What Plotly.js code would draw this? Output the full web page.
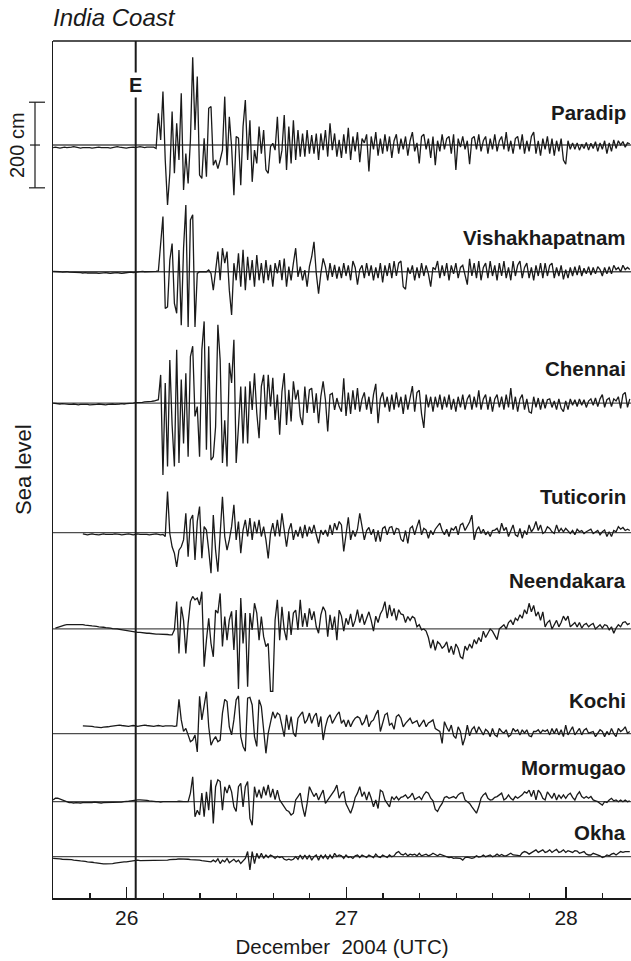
<!DOCTYPE html>
<html>
<head>
<meta charset="utf-8">
<script src="https://cdn.plot.ly/plotly-3.0.1.min.js"></script>
<style>
  html, body { margin: 0; padding: 0; background: #ffffff; overflow: hidden; }
  #chart { width: 631px; height: 961px; }
</style>
</head>
<body>
<div id="chart"></div>
<script>
// Tide-gauge records along the India coast, 26-28 December 2004.
// Sea level in cm relative to each gauge's mean, one sample every 15 minutes.
const stations = ["Paradip", "Vishakhapatnam", "Chennai", "Tuticorin", "Neendakara", "Kochi", "Mormugao", "Okha"];
const firstSampleDay = [25.665, 25.665, 25.665, 25.8004, 25.6754, 25.8004, 25.665, 25.665];
const sampleStepDay = 15 / 1440;
const earthquakeDay = 26.041;

const paradip = [
  -6,-5,-6,-7,-6,-5,-6,-6,-5,-4, -5,-6,-7,-6,-6,-5,-6,-7,-6,-5,
  -5,-6,-6,-5,-6,-7,-6,-5,-4,-5, -6,-6,-7,-6,-5,-5,-6,-5,-4,-5,
  -6,-5,-5,-4,-5,
  -8,74,12,125,-35,-140,-66,78,-66,51,
  -35,121,-105,-20,-90,12,205,35,160,-70,
  -78,16,-74,86,90,-47,-35,-55,-35,-12,
  113,-47,66,-4,-117,20,16,-94,43,105,
  -35,58,-86,-12,-43,43,-20,35,-58,-66,
  -4,4,-12,66,-43,-12,70,-58,43,-43,
  58,-35,35,-27,27,-27,35,-20,23,-20,
  27,-35,27,-12,35,-27,51,-12,27,-27,
  12,
  -30,25,-20,40,-35,20,-15,30,-40,15,
  5,25,-62,20,-10,30,-25,15,-20,25,
  -15,20,-30,10,25,-20,15,-10,20,-25,
  10,30,-15,5,-43,20,25,-10,15,-30,
  20,-47,10,-15,25,-10,15,20,-20,25,
  -58,15,-5,20,-10,10,-45,15,20,-10,
  25,-15,10,20,-20,15,-10,25,-15,10,
  20,-10,30,-15,10,-20,15,20,-10,25,
  -20,10,-15,20,30,-20,10,-25,15,-10,
  20,-20,15,-25,10,-15,15,-35,-45,10,
  -10,5,-10,5,-12,2,-8,6,-12,4,
  -8,8,-15,5,-10,10,-20,5,-15,12,
  -8,10,0,8,-5,5,3
];

const vishakhapatnam = [
  1,1,0,0,-1,0,0,-1,-1,-2, -2,-1,-2,-3,-2,-3,-3,-2,-3,-3,
  -4,-3,-3,-2,-3,-4,-3,-2,-2,-3, -4,-3,-2,-1,-1,-2,-1,0,0,1,
  0,0,1,0,0,1,
  2,62,129,-86,-82,27,66,-74,-97,51,
  -125,55,156,-129,121,133,-129,-4,0,0,
  0,0,4,-4,-43,-4,47,-20,55,20,
  47,-43,-101,20,-20,43,-35,51,-43,35,
  -20,27,-35,39,-20,20,-27,27,-20,16,
  -35,20,-4,27,-20,31,-35,12,-20,20,
  55,-12,12,-20,4,-35,12,35,70,-4,
  -51,-4,31,12,-20,20,-12,16,-16,12,
  -15,20,-10,15,-20,25,10,-30,5,15,
  -15,20,-10,15,-20,10,-15,20,-25,15,
  -10,20,-15,25,-10,20,25,-35,-41,10,
  -5,15,-20,10,-15,20,-10,15,-5,-35,
  10,5,25,-15,15,-10,20,-20,15,-5,
  20,-15,10,15,-10,-30,30,-10,20,-15,
  25,-20,10,20,-15,25,-10,15,-20,20,
  -10,25,-15,10,-20,25,-10,15,25,-15,
  10,20,-15,10,-20,15,-10,20,-15,20,
  -10,15,20,-15,10,-10,15,-18,5,-15,
  10,-10,12,-8,15,-10,8,-5,12,-8,
  10,-5,12,5,-10,10,-5,12,-5,15,
  5,10,0,15,5,10,5
];

const chennai = [
  0,-1,-1,-2,-1,-2,-2,-3,-3,-2, -3,-4,-3,-3,-2,-3,-4,-4,-3,-3,
  -2,-3,-3,-4,-3,-2,-2,-3,-3,-2, -1,-2,-1,-1,0,0,1,1,2,2,
  3,3,4,4,5,
  6,8,66,-168,47,-148,101,-51,-148,125,
  -140,55,-94,70,-125,109,133,-31,-8,-125,
  125,191,-109,133,-133,-125,-55,183,101,-140,
  -40,-148,94,47,148,-140,-55,39,-94,39,
  -94,51,-16,70,-23,-82,39,66,-39,66,
  -8,59,-39,20,-74,27,70,-51,31,-43,
  51,8,31,-31,-51,39,-23,31,35,-23,
  23,-47,16,51,8,-66,20,23,-16,12,
  -8,
  -20,58,-30,25,-25,30,-15,35,-20,10,
  25,-15,15,-25,20,45,-47,10,25,-10,
  15,-20,20,-15,25,-10,15,-25,20,-15,
  10,40,-20,25,30,-25,-58,20,-10,15,
  -20,15,-10,20,-15,15,-10,20,-15,10,
  -20,15,-10,20,-15,10,20,-15,15,-10,
  30,-15,10,20,-15,15,-20,10,20,-10,
  15,-15,20,-10,35,-15,15,-20,10,20,
  -15,10,-20,-23,15,-10,12,-15,10,-12,
  8,10,-10,5,-15,10,-12,-20,5,-15,
  10,-5,8,-8,10,-5,8,-10,5,10,
  -5,12,-8,10,20,-10,8,12,-8,10,
  5,15,-12,20,25,-10,10
];

const tuticorin = [
  -3,-4,-5,-4,-3,-4,-5,-5,-4,-3, -4,-4,-5,-4,-3,-3,-4,-5,-4,-4,
  -3,-4,-5,-4,-3,-4,-4,-3,-4,-5, -4,-3,-3,-4,-5,-4,
  -9,96,-2,-33,-48,-80,-41,-33,-17,45,
  -56,30,41,-64,26,61,-60,14,6,-41,
  -95,41,-41,-91,-9,84,-9,-41,-17,14,
  65,-17,26,-48,6,30,-9,34,-17,26,
  -2,30,-9,14,-17,-60,-2,22,-9,30,
  -9,45,6,-33,6,22,-17,6,-9,14,
  -13,18,-9,14,-2,18,-5,-25,6,-5,
  6,-9,18,-5,22,6,26,
  18,-44,-9,36,-17,5,-9,8,45,10,
  -17,5,12,-5,8,-21,5,-21,10,14,
  -5,12,14,-5,10,8,-15,-21,5,-25,
  10,15,-5,14,30,-5,10,6,-13,5,
  -5,8,14,22,5,-5,8,-9,10,6,
  15,-5,18,22,5,14,25,41,-17,5,
  14,-2,8,-5,2,-9,5,6,10,-2,
  22,5,12,-9,6,18,-5,-9,10,-13,
  5,-5,18,2,10,26,5,18,-2,2,
  14,10,2,-2,18,2,10,2,10,5,
  -2,5,-5,8,2,5,-2,2,5,8,
  -2,2,5,-5,2,6,-9,2,-9,5,
  2,14,8,12,5,8,5
];

const neendakara = [
  2,4,6,8,9,10,10,11,11,11, 11,10,10,9,9,8,7,7,6,5,
  5,4,3,3,2,1,1,0,-1,-2, -3,-3,-4,-5,-6,-7,-8,-8,-9,-9,
  -10,-10,-11,-11,-12,-12,-12,-13,-13,-13, -14,-14,
  -2,64,-57,52,20,-57,13,64,76,68,
  72,56,87,-88,-26,25,-34,-65,44,37,
  83,-41,29,-26,21,41,-49,44,-140,72,
  -34,37,-135,37,-2,60,37,-26,29,-18,
  -41,-34,-146,-146,21,68,-26,52,-2,-26,
  41,-14,37,44,-2,68,5,37,5,48,
  21,41,5,-10,33,52,41,-18,33,-2,
  29,-26,44,
  30,-5,25,10,35,5,20,45,15,35,
  10,25,40,20,-5,30,15,35,45,64,
  25,56,30,48,20,45,35,33,15,29,
  20,29,25,5,10,-2,0,-5,-20,-45,
  -25,-50,-30,-35,-45,-40,-30,-55,-40,-60,
  -35,-45,-65,-69,-40,-50,-35,-45,-25,-35,
  -20,-30,-5,-20,-10,0,-5,-15,-25,0,
  5,10,0,15,20,10,25,20,33,25,
  45,35,60,40,55,30,40,20,40,5,
  15,20,0,10,20,5,15,30,20,30,
  5,10,15,5,15,2,10,13,5,10,
  13,0,5,10,2,10,8,-2,5,-10,
  2,10,5,15,17,10,13
];

const kochi = [
  18,18,17,18,17,16,15,15,14,15, 15,16,17,18,19,20,20,19,18,18,
  17,18,19,18,17,18,19,20,19,18, 18,17,18,19,18,17,18,18,19,18,
  17,18,
  80,32,5,12,-3,-19,-15,-3,-43,87,
  32,63,98,16,-27,-15,-7,-19,-15,48,
  80,75,16,-3,32,79,88,-7,-30,-41,
  83,85,67,-7,-30,79,63,9,-46,1,
  28,51,36,48,44,16,-7,44,9,40,
  1,-7,36,44,51,24,32,48,24,40,
  48,16,40,-15,16,36,44,24,36,44,
  51,
  24,32,16,32,16,28,36,40,36,20,
  28,44,16,28,32,45,55,5,28,44,
  48,20,24,10,40,44,36,16,24,30,
  36,24,28,30,16,24,32,16,25,28,
  32,12,8,5,-23,28,15,5,20,-5,
  -11,16,5,-27,-10,20,-5,10,16,1,
  16,5,-3,10,5,-7,12,-3,-7,12,
  5,1,9,-7,-3,12,5,9,-3,9,
  1,9,-5,-7,5,5,9,1,8,5,
  9,-3,12,0,12,-3,9,-7,20,-3,
  5,16,-3,5,12,-3,8,12,1,3,
  5,-7,1,9,5,-7,5,-3,12,0,
  -7,12,5,9,16,1,5
];

const mormugao = [
  4,8,8,6,3,1,-1,-2,-2,-3, -2,-3,-3,-2,-2,-3,-2,-2,-1,-2,
  -2,-3,-2,-2,-1,-1,-2,-2,-1,-1, -1,0,0,1,2,3,4,4,4,4,
  3,3,2,1,1,0,0,-1,0,0, 0,-1,0,0,0,1,0,0,0,
  0,20,58,-35,-20,-31,20,-35,23,-20,
  51,-51,35,51,47,-20,35,20,39,23,
  -12,-23,35,43,-12,35,47,-39,-55,35,
  10,28,8,35,15,39,10,30,5,27,
  4,-4,-12,-20,-23,-31,-27,4,12,20,
  -12,-35,-4,35,23,12,20,4,16,27,
  -4,4,12,20,27,39,8,
  20,23,-5,-16,-27,-12,10,20,35,12,
  23,4,23,8,-12,4,-16,27,23,4,
  -4,-12,12,5,12,4,10,12,16,8,
  12,20,5,8,12,5,16,23,20,8,
  2,-18,-23,-12,-4,10,12,8,10,12,
  8,16,20,21,4,0,-4,-12,-20,-27,
  -12,8,16,20,8,4,5,10,12,16,
  20,4,8,16,8,4,12,8,12,16,
  23,20,27,12,27,4,27,20,8,4,
  23,16,8,20,4,16,8,16,8,16,
  20,10,4,16,23,12,8,12,8,12,
  4,2,0,-4,-8,0,-2,4,8,2,
  4,0,4,0,4,0,2
];

const okha = [
  -4,-4,-5,-5,-6,-6,-7,-7,-7,-8, -8,-9,-10,-10,-11,-12,-12,-13,-14,-15,
  -16,-16,-17,-17,-17,-16,-16,-15,-14,-13, -13,-12,-12,-11,-10,-9,-8,-8,-9,-9,
  -9,-9,-8,-8,-8,-8,-8,-8,-8,-8, -8,-7,-7,-6,-6,-5,-5,-5,-6,-6,
  -7,-7,-7,-8,-8,-9,-10,-10,-11,-12,
  -8,-12,-5,-16,-8,-12,-4,-14,-10,-6,
  -12,-8,-16,-10,-4,12,-31,12,-16,8,
  -4,8,-4,4,-2,4,1,-4,1,-2,
  0,-6,-8,-6,-8,-6,0,-6,4,-6,
  4,-6,4,-8,0,4,-8,4,-4,4,
  -6,4,-4,8,0,4,
  2,-4,4,-2,0,-4,2,4,-2,4,
  1,-2,4,0,-2,6,0,-2,4,1,
  -2,4,0,2,9,12,6,4,8,2,
  6,4,6,2,8,2,4,6,2,4,
  8,4,2,6,4,2,0,-2,-1,-4,
  -3,-4,-4,-8,-2,-1,-3,-4,-2,2,
  -1,0,4,0,2,4,0,2,6,2,
  5,2,2,6,8,4,4,3,2,9,
  12,10,6,9,12,16,10,14,16,10,
  12,16,10,14,17,10,12,16,10,14,
  12,10,14,13,8,10,12,6,4,4,
  8,6,4,2,-2,0,4,2,6,8,
  4,8,12,10,12,12,12
];

const records = [paradip, vishakhapatnam, chennai, tuticorin, neendakara, kochi, mormugao, okha];

const xTickVals = [26, 27, 28];
const xTickText = ["26", "27", "28"];

// Stacking: level (cm on the shared axis) of each record's zero line and of its name.
const baseLevel = [1759, 1463, 1156, 853.5, 628.5, 384, 225, 96.5];
const nameLevel = [1836, 1543, 1236, 937, 741, 461, 304, 154];
const yTop = 2002;
const xRange = [25.6645, 28.2955];

const ink = "#1a1a1a";
const fontFamily = "Liberation Sans, Arial, Helvetica, sans-serif";

const traces = records.map((vals, k) => ({
  type: "scatter",
  mode: "lines",
  name: stations[k],
  x: vals.map((_, i) => firstSampleDay[k] + i * sampleStepDay),
  y: vals.map(v => baseLevel[k] + v),
  line: { color: ink, width: 1.3 },
  hoverinfo: "skip",
  showlegend: false
}));

// Paper-x position from a pixel offset relative to the plot's left edge.
const plotLeft = 53, plotWidth = 578;
const px = p => (p - plotLeft) / plotWidth;

const shapes = [];
// zero line of each record
baseLevel.forEach(b => shapes.push({
  type: "line", xref: "paper", yref: "y", x0: 0, x1: 1, y0: b, y1: b,
  line: { color: "#4d4d4d", width: 1.3 }, layer: "below"
}));
// earthquake origin time
shapes.push({
  type: "line", xref: "x", yref: "paper", x0: earthquakeDay, x1: earthquakeDay, y0: 0, y1: 1,
  line: { color: ink, width: 2 }, layer: "above"
});
// top frame
shapes.push({
  type: "line", xref: "paper", yref: "paper", x0: 0, x1: 1, y0: 1, y1: 1,
  line: { color: ink, width: 1.5 }
});
// 200 cm scale bar beside the Paradip record
const barMid = baseLevel[0];
shapes.push({ type: "line", xref: "paper", yref: "y", x0: px(35), x1: px(35), y0: barMid - 100, y1: barMid + 100, line: { color: ink, width: 1.2 } });
shapes.push({ type: "line", xref: "paper", yref: "y", x0: px(29), x1: px(45), y0: barMid + 100, y1: barMid + 100, line: { color: ink, width: 1.2 } });
shapes.push({ type: "line", xref: "paper", yref: "y", x0: px(30), x1: px(40), y0: barMid, y1: barMid, line: { color: ink, width: 1.2 } });
shapes.push({ type: "line", xref: "paper", yref: "y", x0: px(29), x1: px(45), y0: barMid - 100, y1: barMid - 100, line: { color: ink, width: 1.2 } });

const annotations = stations.map((s, k) => ({
  xref: "paper", yref: "y", x: px(628), y: nameLevel[k],
  xanchor: "right", yanchor: "middle", showarrow: false,
  text: "<b>" + s + "</b>",
  font: { family: fontFamily, size: 20.5, color: ink }
}));
annotations.push({
  xref: "x", yref: "y", x: earthquakeDay, y: 1900,
  xanchor: "center", yanchor: "middle", showarrow: false,
  text: "<b>E</b>", bgcolor: "#ffffff", borderpad: 1,
  font: { family: fontFamily, size: 20, color: ink }
});
annotations.push({
  xref: "paper", yref: "y", x: px(17), y: barMid,
  xanchor: "center", yanchor: "middle", showarrow: false, textangle: -90,
  text: "200 cm", font: { family: fontFamily, size: 20, color: ink }
});
annotations.push({
  xref: "paper", yref: "y", x: px(24), y: 1000,
  xanchor: "center", yanchor: "middle", showarrow: false, textangle: -90,
  text: "Sea level", font: { family: fontFamily, size: 22, color: ink }
});

const layout = {
  width: 631,
  height: 961,
  margin: { l: 53, r: 0, t: 41, b: 63, pad: 0 },
  paper_bgcolor: "#ffffff",
  plot_bgcolor: "#ffffff",
  font: { family: fontFamily, color: ink },
  title: {
    text: "India Coast",
    x: 53 / 631, xanchor: "left",
    y: 1 - 18 / 961, yanchor: "middle",
    font: { family: fontFamily, size: 24, style: "italic", color: ink }
  },
  xaxis: {
    range: xRange,
    showgrid: false, zeroline: false,
    showline: true, linecolor: ink, linewidth: 1.5,
    ticks: "inside", ticklen: 11, tickwidth: 1.5, tickcolor: ink,
    tickmode: "array", tickvals: xTickVals, ticktext: xTickText,
    tickfont: { family: fontFamily, size: 21, color: ink },
    minor: { tickmode: "linear", tick0: 26, dtick: 1 / 6, ticks: "inside", ticklen: 5, tickwidth: 1.2, tickcolor: ink, showgrid: false },
    title: { text: "December\u00a0 2004 (UTC)", font: { family: fontFamily, size: 20.5, color: ink }, standoff: 12 }
  },
  yaxis: {
    range: [0, yTop],
    showgrid: false, zeroline: false,
    showline: true, linecolor: ink, linewidth: 1.5,
    ticks: "", showticklabels: false
  },
  shapes: shapes,
  annotations: annotations,
  showlegend: false
};

Plotly.newPlot("chart", traces, layout, { displayModeBar: false, staticPlot: true });
</script>
</body>
</html>
